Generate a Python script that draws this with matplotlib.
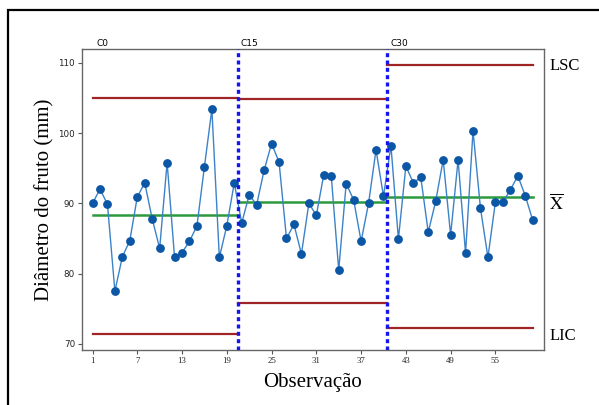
import numpy as np
import matplotlib
matplotlib.use("Agg")
import matplotlib.pyplot as plt
from matplotlib.patches import Rectangle

# diametro do fruto por observacao
c0 = [90.0, 92.0, 89.9, 77.5, 82.4, 84.7, 90.9, 92.9, 87.8, 83.6,
      95.8, 82.3, 83.0, 84.6, 86.8, 95.2, 103.4, 82.3, 86.8, 92.9]
c15 = [87.2, 91.2, 89.8, 94.7, 98.5, 95.9, 85.0, 87.0, 82.8, 90.0,
       88.3, 94.1, 93.9, 80.5, 92.8, 90.5, 84.6, 90.0, 97.6, 91.0]
c30 = [98.2, 84.9, 95.3, 92.9, 93.7, 85.9, 90.3, 96.2, 85.5, 96.2,
       82.9, 100.3, 89.3, 82.3, 90.2, 90.2, 91.9, 93.9, 91.1, 87.6]

phases = ["C0", "C15", "C30"]
ucl = [105.0, 104.8, 109.7]
cl = [88.3, 90.2, 90.95]
lcl = [71.4, 75.8, 72.2]
xticks = [1, 7, 13, 19, 25, 31, 37, 43, 49, 55]
yticks = [70, 80, 90, 100, 110]

plt.rcParams['mathtext.fontset'] = 'stix'

values = np.array(c0 + c15 + c30)
obs = np.arange(1, len(values) + 1)

fig = plt.figure(figsize=(5.99, 4.05), dpi=100)
ax = fig.add_axes([0.137, 0.136, 0.771, 0.743])

ax.plot(obs, values, '-', color='#3c82c8', lw=1.0, zorder=3)
ax.plot(obs, values, 'o', color='#0b56a5', ms=5.3, zorder=4)

# limites de cada fase
bounds = [(1, 20.5), (20.5, 40.5), (40.5, 60)]
for (a, b), u, c, l in zip(bounds, ucl, cl, lcl):
    ax.plot([a, b], [u, u], color='#a02424', lw=1.6, zorder=2)
    ax.plot([a, b], [l, l], color='#a02424', lw=1.6, zorder=2)
    ax.plot([a, b], [c, c], color='#2c9a3c', lw=1.8, zorder=2)

for xv in [20.5, 40.5]:
    ax.axvline(xv, color='#1515f0', lw=2.4, ls=(0, (1.2, 1.0)), zorder=5)

for name, start in zip(phases, [1.5, 20.9, 40.9]):
    ax.text(start, 1.005, name, transform=ax.get_xaxis_transform(),
            fontsize=6.5, ha='left', va='bottom', color='black')

ax.set_xlim(-0.4, 61.5)
ax.set_ylim(69.15, 111.95)
ax.set_xticks(xticks)
ax.set_yticks(yticks)
ax.tick_params(labelsize=6.3, length=3, width=0.8, color='#555555',
               labelcolor='#222222', pad=2)
for lab in ax.get_xticklabels():
    lab.set_family('Liberation Serif')
for sp in ax.spines.values():
    sp.set_color('#666666')
    sp.set_linewidth(1.0)

ax.set_xlabel("Observação", family='Liberation Serif', fontsize=15, labelpad=6)
ax.set_ylabel("Diâmetro do fruto (mm)", family='Liberation Serif', fontsize=15,
              labelpad=3)

tr = ax.get_yaxis_transform()
ax.text(1.012, ucl[2] - 0.2, "LSC", transform=tr, family='Liberation Serif',
        fontsize=12, va='center', ha='left')
ax.text(1.012, cl[2] - 1.0, r"$\overline{\mathrm{X}}$", transform=tr,
        fontsize=13, va='center', ha='left')
ax.text(1.012, lcl[2] - 1.0, "LIC", transform=tr, family='Liberation Serif',
        fontsize=12, va='center', ha='left')

# moldura externa
fig.patches.append(Rectangle((0.0134, -0.2), 1.2, 1.1742, transform=fig.transFigure,
                             fill=False, edgecolor='black', lw=1.6))

fig.savefig("out.png", dpi=100)
